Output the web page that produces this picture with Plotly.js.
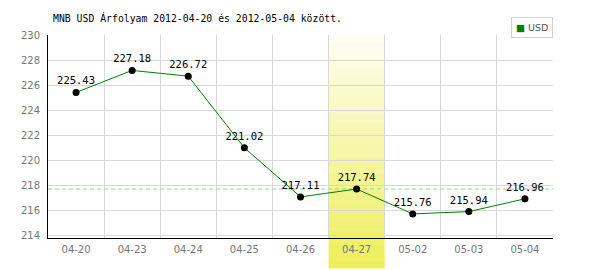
<!DOCTYPE html>
<html><head><meta charset="utf-8">
<script src="https://cdn.plot.ly/plotly-3.0.1.min.js"></script>
<style>body{margin:0;background:#fff}#c{width:600px;height:270px}</style>
</head><body><div id="c"></div>
<script>
const categories = ["04-20","04-23","04-24","04-25","04-26","04-27","05-02","05-03","05-04"];
const usdValues = [225.43, 227.18, 226.72, 221.02, 217.11, 217.74, 215.76, 215.94, 216.96];
const yTicks = [214,216,218,220,222,224,226,228,230];
const highlightIndex = 5;
const seriesName = "USD";

const xIdx = categories.map((_, i) => i);

// gradient band for highlighted category
const shapes = [];
const steps = 30;
const bandTop = 1.0, bandBottom = -0.15;
function mix(a, b, t){ return Math.round(a + (b - a) * t); }
for (let s = 0; s < steps; s++) {
  const t = s / (steps - 1);
  const y1 = bandTop - (bandTop - bandBottom) * s / steps;
  const y0 = bandTop - (bandTop - bandBottom) * (s + 1) / steps;
  const r = mix(0xfe, 0xee, t), g = mix(0xfe, 0xee, t), b = mix(0xf2, 0x5c, t);
  shapes.push({type:"rect", xref:"x", yref:"paper", x0:highlightIndex-0.5, x1:highlightIndex+0.5,
    y0:y0, y1:y1 + 0.002, fillcolor:`rgb(${r},${g},${b})`, line:{width:0}, layer:"below"});
}
// dashed reference line at highlighted value
shapes.push({type:"line", xref:"paper", yref:"y", x0:0, x1:1, y0:usdValues[highlightIndex], y1:usdValues[highlightIndex],
  line:{color:"#8fd28f", width:1, dash:"4px,3px"}, layer:"below"});

const traces = [
  {x: xIdx, y: usdValues, mode: "lines+markers+text", type: "scatter",
   text: usdValues.map(v => v.toFixed(2)), textposition: "top center",
   textfont: {family: "DejaVu Sans Mono", size: 10.5, color: "#000"},
   line: {color: "#008000", width: 1}, marker: {color: "#000", size: 7},
   showlegend: false, cliponaxis: false, hoverinfo: "skip"}
];

const layout = {
  width: 600, height: 270,
  margin: {l: 48, r: 47, t: 35, b: 32},
  paper_bgcolor: "#fff", plot_bgcolor: "rgba(0,0,0,0)",
  title: {text: "MNB USD Árfolyam 2012-04-20 és 2012-05-04 között.",
    font: {family: "DejaVu Sans Mono", size: 9.8, color: "#000"},
    x: 53/600, xanchor: "left", xref: "container", y: 1 - 19/270, yanchor: "middle", yref: "container"},
  xaxis: {range: [-0.5, 8.5], tickvals: xIdx, ticktext: categories, showgrid: false,
    zeroline: false, showline: true, linecolor: "#000", linewidth: 1, ticks: "",
    tickfont: {family: "DejaVu Sans", size: 10, color: "#777"}, ticklabelstandoff: 2,
    minor: {tickvals: xIdx.concat([8]).map(i => i + 0.5).concat([-0.5]), showgrid: true, gridcolor: "#d8d8d8", gridwidth: 1},
    fixedrange: true},
  yaxis: {range: [213.84, 230], tickvals: yTicks, showgrid: true, gridcolor: "#d8d8d8", gridwidth: 1,
    zeroline: false, showline: true, linecolor: "#000", linewidth: 1, ticks: "",
    tickfont: {family: "DejaVu Sans", size: 10, color: "#777"}, ticklabelstandoff: 5, fixedrange: true},
  shapes: shapes,
  showlegend: false,
  annotations: [{xref: "paper", yref: "paper", x: 1, xanchor: "right", y: 1 + 18/203, yanchor: "top",
    text: '<span style="color:#008000">■</span> ' + seriesName, showarrow: false,
    font: {family: "DejaVu Sans", size: 9.5, color: "#555"},
    bgcolor: "#fff", bordercolor: "#d0d0d0", borderwidth: 1, borderpad: 4}]
};

Plotly.newPlot("c", traces, layout, {displayModeBar: false, staticPlot: true});
</script></body></html>
